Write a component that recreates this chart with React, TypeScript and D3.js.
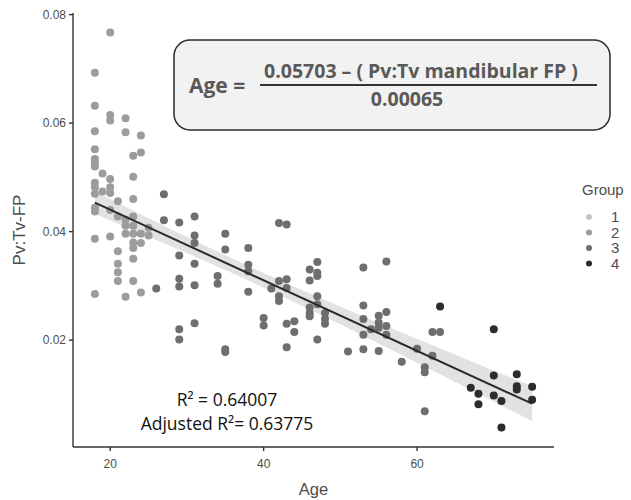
import React from "react";
import * as d3 from "d3";

// Pv:Tv-FP against age (one entry per point)
const ages = [
  18, 18, 18, 18, 18, 18, 18, 18, 18, 18, 18, 18, 18, 18,
  19, 19,
  20, 20, 20, 20, 20, 20, 20, 20,
  21, 21, 21, 21, 21, 21,
  22, 22, 22, 22, 22, 22,
  23, 23, 23, 23, 23, 23, 23, 23, 23, 23,
  24, 24, 24, 24, 24,
  25, 25,
  26,
  27, 27,
  29, 29, 29, 29, 29, 29,
  31, 31, 31, 31, 31, 31,
  34, 34,
  35, 35, 35, 35,
  38, 38, 38, 38,
  40, 40,
  41,
  42, 42, 42, 42,
  43, 43, 43, 43, 43,
  44, 44,
  46, 46, 46, 46, 46,
  47, 47, 47, 47, 47, 47,
  48, 48, 48,
  51,
  53, 53, 53, 53, 53,
  54,
  55, 55, 55, 55,
  56, 56, 56, 56,
  58,
  60,
  61, 61, 61,
  62, 62,
  63, 63,
  67,
  68, 68,
  70, 70, 70,
  71, 71,
  73, 73, 73,
  75, 75,
];

const pvtv = [
  0.0693, 0.0632, 0.0585, 0.0552, 0.0534, 0.0528, 0.052, 0.049, 0.0482, 0.047, 0.0444, 0.0437, 0.0387, 0.0285,
  0.0507, 0.0474,
  0.0767, 0.0615, 0.0605, 0.0497, 0.0482, 0.0471, 0.044, 0.0391,
  0.0456, 0.0428, 0.0364, 0.0341, 0.0325, 0.0309,
  0.0609, 0.0583, 0.0422, 0.0411, 0.0396, 0.028,
  0.054, 0.0501, 0.046, 0.0428, 0.0411, 0.0396, 0.038, 0.037, 0.035, 0.0309,
  0.0577, 0.0546, 0.0396, 0.0379, 0.0288,
  0.0407, 0.0393,
  0.0295,
  0.0469, 0.0421,
  0.0417, 0.0356, 0.0313, 0.0299, 0.022, 0.0201,
  0.0428, 0.0393, 0.0379, 0.0341, 0.0301, 0.0231,
  0.0318, 0.0304,
  0.0396, 0.0367, 0.0183, 0.0178,
  0.037, 0.0339, 0.0327, 0.0289,
  0.0241, 0.0227,
  0.0295,
  0.0416, 0.0309, 0.0281, 0.0272,
  0.0413, 0.0312, 0.0296, 0.023, 0.0187,
  0.0235, 0.0215,
  0.033, 0.031, 0.026, 0.025, 0.0244,
  0.0344, 0.0324, 0.0318, 0.0281, 0.0266, 0.0201,
  0.025, 0.0239, 0.023,
  0.0179,
  0.0334, 0.0264, 0.0239, 0.021, 0.0183,
  0.022,
  0.0245, 0.0232, 0.0223, 0.018,
  0.0345, 0.0252, 0.0226, 0.021,
  0.016,
  0.0184,
  0.015, 0.0141, 0.0069,
  0.0215, 0.0171,
  0.0262, 0.0215,
  0.0112,
  0.0101, 0.0082,
  0.022, 0.0135, 0.0098,
  0.0088, 0.0039,
  0.0137, 0.0115, 0.0109,
  0.0114, 0.009,
];

const groupNames = ["1", "2", "3", "4"];
const groupColors = ["#c6c6c6", "#9c9c9c", "#6e6e6e", "#2c2c2c"];

// group per point: young ones are group 2, middle ones 3, oldest 4
const groups = ages.map((a, i) => {
  if (a <= 25) return "2";
  if (a === 63 && pvtv[i] > 0.025) return "4";
  if (a <= 63) return "3";
  return "4";
});

const xTicks = [20, 40, 60];
const yTicks = [0.02, 0.04, 0.06, 0.08];

// published fit: Pv:Tv = 0.05703 - 0.00065 * Age
const intercept = 0.05703;
const slope = -0.00065;

const W = 631;
const H = 500;
const left = 73;
const right = 554;
const top = 13;
const bottom = 447;

const x = d3.scaleLinear().domain([15.15, 77.85]).range([left, right]);
const y = d3.scaleLinear().domain([0.0003, 0.0803]).range([bottom, top]);
const color = d3.scaleOrdinal<string, string>().domain(groupNames).range(groupColors);

const fit = (a: number) => intercept + slope * a;

// 95% band around the fitted line from the residuals
const n = ages.length;
const meanAge = d3.mean(ages) as number;
const sxx = d3.sum(ages, (a) => (a - meanAge) ** 2);
const s = Math.sqrt(d3.sum(ages, (a, i) => (pvtv[i] - fit(a)) ** 2) / (n - 2));
const [minAge, maxAge] = d3.extent(ages) as [number, number];
const bandAges = d3.range(minAge, maxAge + 0.01, 0.5);
const half = (a: number) => 1.977 * s * Math.sqrt(1 / n + (a - meanAge) ** 2 / sxx);

const band = d3
  .area<number>()
  .x((a) => x(a))
  .y0((a) => y(fit(a) - half(a)))
  .y1((a) => y(fit(a) + half(a)));

const line = d3
  .line<number>()
  .x((a) => x(a))
  .y((a) => y(fit(a)));

const tickFont = "Liberation Sans, Arial, sans-serif";
const boxFont = "Open Sans, sans-serif";

export default function App() {
  return (
    <svg
      width={W}
      height={H}
      style={{ position: "absolute", left: 0, top: 0, background: "#fff" }}
    >
      {/* band under the points, line over them */}
      <path d={band(bandAges) || ""} fill="#e2e2e2" />

      <g>
        {ages.map((a, i) => (
          <circle key={i} cx={x(a)} cy={y(pvtv[i])} r={4} fill={color(groups[i])} />
        ))}
      </g>

      <path d={line([minAge, maxAge]) || ""} fill="none" stroke="#2a2a2a" strokeWidth={2} />

      {/* axes */}
      <line x1={left} x2={left} y1={top} y2={bottom} stroke="#333" strokeWidth={1.4} />
      <line x1={left} x2={right} y1={bottom} y2={bottom} stroke="#333" strokeWidth={1.4} />
      {yTicks.map((t) => (
        <g key={t} transform={`translate(0,${y(t)})`}>
          <line x1={left - 4} x2={left} stroke="#333" strokeWidth={1.4} />
          <text
            x={left - 7}
            dy="0.35em"
            textAnchor="end"
            fontFamily={tickFont}
            fontSize={12}
            fill="#4d4d4d"
          >
            {d3.format(".2f")(t)}
          </text>
        </g>
      ))}
      {xTicks.map((t) => (
        <g key={t} transform={`translate(${x(t)},0)`}>
          <line y1={bottom} y2={bottom + 4} stroke="#333" strokeWidth={1.4} />
          <text
            y={bottom + 17}
            dy="0.35em"
            textAnchor="middle"
            fontFamily={tickFont}
            fontSize={12}
            fill="#4d4d4d"
          >
            {t}
          </text>
        </g>
      ))}
      <text
        x={(left + right) / 2}
        y={495}
        textAnchor="middle"
        fontFamily={tickFont}
        fontSize={16.5}
        fill="#4d4d4d"
      >
        Age
      </text>
      <text
        transform={`translate(25,${(top + bottom) / 2}) rotate(-90)`}
        textAnchor="middle"
        fontFamily={tickFont}
        fontSize={17}
        fill="#4d4d4d"
      >
        Pv:Tv-FP
      </text>

      {/* legend */}
      <text x={582} y={195} fontFamily={tickFont} fontSize={15} fill="#4d4d4d">
        Group
      </text>
      {groupNames.map((g, i) => (
        <g key={g} transform={`translate(0,${217 + i * 15.5})`}>
          <circle cx={589} cy={0} r={3} fill={color(g)} />
          <text x={611} dy="0.35em" fontFamily={tickFont} fontSize={15} fill="#4d4d4d">
            {g}
          </text>
        </g>
      ))}

      {/* formula box */}
      <rect
        x={174}
        y={40}
        width={436}
        height={90}
        rx={16}
        fill="#f2f2f2"
        stroke="#2b2b2b"
        strokeWidth={1.5}
      />
      <text x={189} y={93} fontFamily={boxFont} fontWeight="bold" fontSize={21} fill="#595959">
        Age =
      </text>
      <text
        x={421}
        y={78}
        textAnchor="middle"
        fontFamily={boxFont}
        fontWeight="bold"
        fontSize={19.5}
        fill="#595959"
      >
        0.05703 – ( Pv:Tv mandibular FP )
      </text>
      <line x1={260} x2={597} y1={85} y2={85} stroke="#333" strokeWidth={2} />
      <text
        x={407}
        y={106}
        textAnchor="middle"
        fontFamily={boxFont}
        fontWeight="bold"
        fontSize={19.5}
        fill="#595959"
      >
        0.00065
      </text>

      {/* fit stats */}
      <text x={227} y={406} textAnchor="middle" fontFamily={boxFont} fontSize={17.5} fill="#111">
        R² = 0.64007
      </text>
      <text x={227} y={430} textAnchor="middle" fontFamily={boxFont} fontSize={17.5} fill="#111">
        Adjusted R²= 0.63775
      </text>
    </svg>
  );
}
